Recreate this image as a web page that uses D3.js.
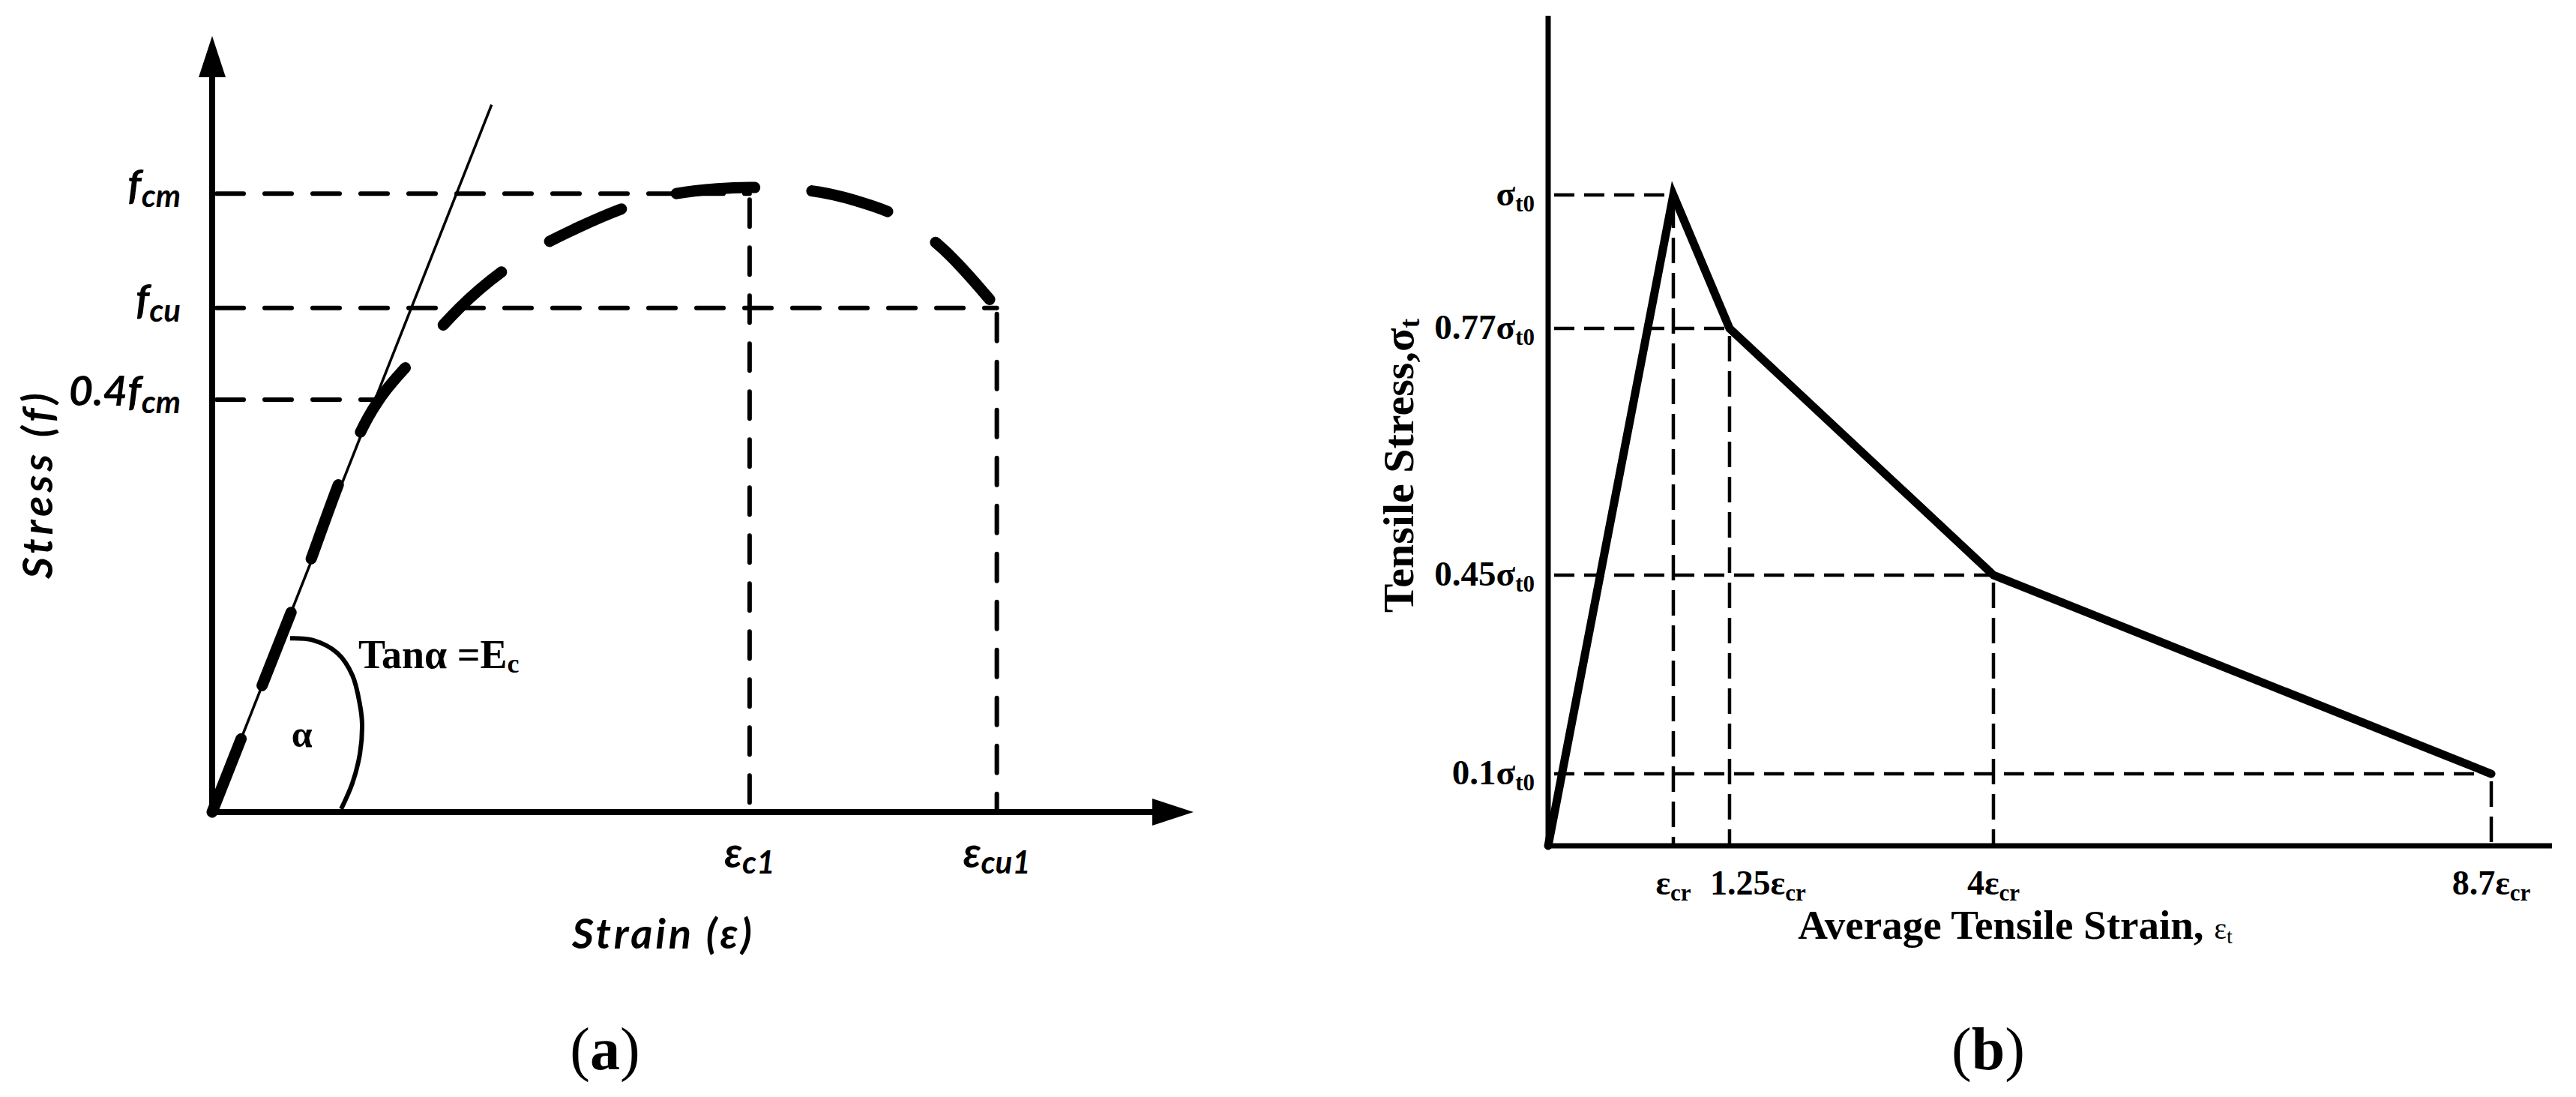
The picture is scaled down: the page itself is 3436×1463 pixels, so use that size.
<!DOCTYPE html>
<html>
<head>
<meta charset="utf-8">
<script src="https://cdn.jsdelivr.net/npm/d3@7"></script>
<style>
  html, body { margin: 0; padding: 0; background: #fff; }
  svg { display: block; }
</style>
</head>
<body>
<svg id="chart" width="3436" height="1463"></svg>
<script>
// (a) compressive curve, normalised: strain / eps_c1, stress / f_cm (as drawn, not to scale)
const compStrain = [0, 0.15, 0.29, 0.39, 0.46, 0.59, 0.68, 0.83, 0.94, 1.0, 1.10, 1.20, 1.285, 1.353, 1.46];
const compStress = [0, 0.33, 0.638, 0.748, 0.815, 0.904, 0.945, 0.994, 1.008, 1.01, 1.006, 0.988, 0.959, 0.916, 0.815];
const compStressLevels = [1.0, 0.815, 0.667];
const compStressLabels = ["f_cm", "f_cu", "0.4f_cm"];
const compStrainMarks = [1.0, 1.46];
const compStrainLabels = ["ε_c1", "ε_cu1"];
const tangentSlope = 2.2;      // E_c
const tangentReach = 0.52;     // strain where the thin tangent line stops
const compStrainMax = 1.826;
const compStressMax = 1.255;

// angle arc next to the tangent (strain, stress)
const arcStrain = [0.145, 0.187, 0.233, 0.261, 0.275, 0.279, 0.275, 0.261, 0.240];
const arcStress = [0.281, 0.278, 0.257, 0.221, 0.173, 0.142, 0.095, 0.047, 0.005];

// (b) tensile softening, strain / eps_cr, stress / sigma_t0
const tensStrain = [0, 1, 1.25, 4, 8.7];
const tensStress = [0, 1, 0.77, 0.45, 0.1];
const tensStrainLabels = ["ε_cr", "1.25ε_cr", "4ε_cr", "8.7ε_cr"];
const tensStressLabels = ["σ_t0", "0.77σ_t0", "0.45σ_t0", "0.1σ_t0"];

const aFont = "Lato, 'Noto Sans', sans-serif";
const bFont = "'Liberation Serif', 'Times New Roman', serif";

const svg = d3.select("#chart");

// text with an optional subscript after "_"
function subText(sel, str, o) {
    let [main, sub] = str.split("_");
    let t = sel.append("text")
        .attr("x", o.x)
        .attr("y", o.y)
        .attr("text-anchor", o.anchor || "start")
        .attr("font-family", o.family)
        .attr("font-size", o.size)
        .attr("font-weight", o.weight || "bold")
        .attr("font-style", o.italic ? "italic" : "normal")
        .attr("fill", "#000");
    if (o.transform) t.attr("transform", o.transform);
    if (o.length) t.attr("textLength", o.length).attr("lengthAdjust", "spacing");
    t.append("tspan").text(main);
    if (sub) {
        t.append("tspan")
            .attr("font-size", o.subSize)
            .attr("dy", o.subShift)
            .text(sub);
    }
    return t;
}

// ---------------- panel (a)
const a = svg.append("g");
const xA = d3.scaleLinear().domain([0, compStrainMax]).range([283, 1592]);
const yA = d3.scaleLinear().domain([0, compStressMax]).range([1083, 48]);
const headLen = 55, headHalf = 18;

a.append("line")
    .attr("x1", xA(0)).attr("y1", yA(0) + 4)
    .attr("x2", xA(0)).attr("y2", yA(compStressMax) + headLen)
    .attr("stroke", "#000").attr("stroke-width", 8);
a.append("path")
    .attr("d", `M${xA(0)},${yA(compStressMax)} l${-headHalf},${headLen} h${2 * headHalf} Z`)
    .attr("fill", "#000");
a.append("line")
    .attr("x1", xA(0) - 4).attr("y1", yA(0))
    .attr("x2", xA(compStrainMax) - headLen).attr("y2", yA(0))
    .attr("stroke", "#000").attr("stroke-width", 8);
a.append("path")
    .attr("d", `M${xA(compStrainMax)},${yA(0)} l${-headLen},${-headHalf} v${2 * headHalf} Z`)
    .attr("fill", "#000");

// dashed guides
let levelEnds = [compStrainMarks[0], compStrainMarks[1], compStressLevels[2] / tangentSlope];
let guideA = a.append("g")
    .attr("stroke", "#000").attr("stroke-width", 6)
    .attr("stroke-dasharray", "36 28").attr("stroke-linecap", "round");
compStressLevels.forEach((lv, i) => {
    guideA.append("line")
        .attr("x1", xA(0) + 6).attr("y1", yA(lv))
        .attr("x2", xA(levelEnds[i])).attr("y2", yA(lv));
});
compStrainMarks.forEach((m, i) => {
    guideA.append("line")
        .attr("x1", xA(m)).attr("y1", yA(compStressLevels[i]) + 8)
        .attr("x2", xA(m)).attr("y2", yA(0));
});

// tangent (E_c)
a.append("line")
    .attr("x1", xA(0)).attr("y1", yA(0))
    .attr("x2", xA(tangentReach)).attr("y2", yA(tangentReach * tangentSlope))
    .attr("stroke", "#000").attr("stroke-width", 3.5);

// angle arc
let arcLine = d3.line().x(d => xA(d[0])).y(d => yA(d[1])).curve(d3.curveCatmullRom.alpha(0.5));
a.append("path")
    .datum(arcStrain.map((s, i) => [s, arcStress[i]]))
    .attr("d", arcLine)
    .attr("fill", "none").attr("stroke", "#000").attr("stroke-width", 6);

// heavy dashed stress-strain curve
let compLine = d3.line().x(d => xA(d[0])).y(d => yA(d[1])).curve(d3.curveMonotoneX);
let compPath = a.append("path")
    .datum(compStrain.map((s, i) => [s, compStress[i]]))
    .attr("d", compLine)
    .attr("fill", "none").attr("stroke", "#000").attr("stroke-width", 15)
    .attr("stroke-linecap", "round");
let len = compPath.node().getTotalLength();
let nDash = 9, dashSeen = 120;
let gapSeen = (len - nDash * dashSeen) / (nDash - 1);
compPath.attr("stroke-dasharray", `${dashSeen - 15} ${gapSeen + 15}`);

// labels (a)
compStressLabels.forEach((lab, i) => {
    subText(a, lab, {x: 241, y: yA(compStressLevels[i]) + 8, anchor: "end", family: aFont,
        size: 56, subSize: 42, subShift: 10, italic: true});
});
compStrainLabels.forEach((lab, i) => {
    subText(a, lab, {x: xA(compStrainMarks[i]), y: yA(0) + 74, anchor: "middle", family: aFont,
        size: 56, subSize: 42, subShift: 8, italic: true});
});
subText(a, "Strain (ε)", {x: 883, y: 1265, anchor: "middle", family: aFont, size: 56, italic: true,
    length: 240});
subText(a, "Stress (f)", {x: 0, y: 0, anchor: "middle", family: aFont, size: 56, italic: true,
    length: 248, transform: "translate(70,648) rotate(-90)"});
subText(a, "Tanα =E_c", {x: xA(0.272), y: yA(0.233), family: bFont, size: 54, subSize: 36, subShift: 6});
subText(a, "α", {x: xA(0.167), y: yA(0.105), anchor: "middle", family: bFont, size: 50});

// ---------------- panel (b)
const b = svg.append("g");
const bLeft = 2065, bRight = 3404, bBottom = 1128, bTop = 21;
// the drawing is not to scale: piecewise axes through the marked values
const xB = d3.scaleLinear()
    .domain([0, 1, 1.25, 4, 8.7, 9.3])
    .range([0, 0.1247, 0.1807, 0.4436, 0.9395, 1].map(f => bLeft + f * (bRight - bLeft)));
const yB = d3.scaleLinear()
    .domain([0, 0.1, 0.45, 0.77, 1, 1.28])
    .range([0, 0.0867, 0.3261, 0.6233, 0.7841, 1].map(f => bBottom - f * (bBottom - bTop)));

// guides
let guideB = b.append("g").attr("stroke", "#000").attr("stroke-width", 4.5);
tensStrain.slice(1).forEach((s, i) => {
    let v = tensStress[i + 1];
    guideB.append("line")
        .attr("x1", xB(0) + 8).attr("y1", yB(v))
        .attr("x2", xB(s)).attr("y2", yB(v))
        .attr("stroke-dasharray", "27 13");
    guideB.append("line")
        .attr("x1", xB(s)).attr("y1", yB(v) + 10)
        .attr("x2", xB(s)).attr("y2", yB(0))
        .attr("stroke-dasharray", "34 13");
});

// axes
b.append("line")
    .attr("x1", xB(0)).attr("y1", yB(0) + 3)
    .attr("x2", xB(0)).attr("y2", bTop)
    .attr("stroke", "#000").attr("stroke-width", 7);
b.append("line")
    .attr("x1", xB(0) - 3).attr("y1", yB(0))
    .attr("x2", bRight).attr("y2", yB(0))
    .attr("stroke", "#000").attr("stroke-width", 7);

// softening curve
let tensLine = d3.line().x(d => xB(d[0])).y(d => yB(d[1]));
b.append("path")
    .datum(tensStrain.map((s, i) => [s, tensStress[i]]))
    .attr("d", tensLine)
    .attr("fill", "none").attr("stroke", "#000").attr("stroke-width", 11)
    .attr("stroke-linejoin", "miter").attr("stroke-linecap", "round");

// labels (b)
const tickNudge = {1.25: 38};
tensStrainLabels.forEach((lab, i) => {
    let s = tensStrain[i + 1];
    subText(b, lab, {x: xB(s) + (tickNudge[s] || 0), y: yB(0) + 65, anchor: "middle", family: bFont,
        size: 46, subSize: 31, subShift: 8});
});
tensStressLabels.forEach((lab, i) => {
    subText(b, lab, {x: bLeft - 18, y: yB(tensStress[i + 1]) + 14, anchor: "end", family: bFont,
        size: 47, subSize: 31, subShift: 8});
});

let xTitle = b.append("text")
    .attr("x", 2688).attr("y", 1252)
    .attr("text-anchor", "middle")
    .attr("font-family", bFont).attr("font-size", 55).attr("font-weight", "bold");
xTitle.append("tspan").text("Average Tensile Strain, ");
xTitle.append("tspan").attr("font-size", 40).attr("font-weight", "normal").text("ε");
xTitle.append("tspan").attr("font-size", 28).attr("font-weight", "normal").attr("dy", 6).text("t");

subText(b, "Tensile Stress,σ_t", {x: 0, y: 0, anchor: "middle", family: bFont, size: 58,
    subSize: 38, subShift: 8, transform: "translate(1885,621) rotate(-90)"});

// panel captions
[["a", 807], ["b", 2652]].forEach(([letter, cx]) => {
    let t = svg.append("text")
        .attr("x", cx).attr("y", 1426)
        .attr("text-anchor", "middle")
        .attr("font-family", bFont).attr("font-size", 80);
    t.append("tspan").text("(");
    t.append("tspan").attr("font-weight", "bold").text(letter);
    t.append("tspan").text(")");
});
</script>
</body>
</html>
